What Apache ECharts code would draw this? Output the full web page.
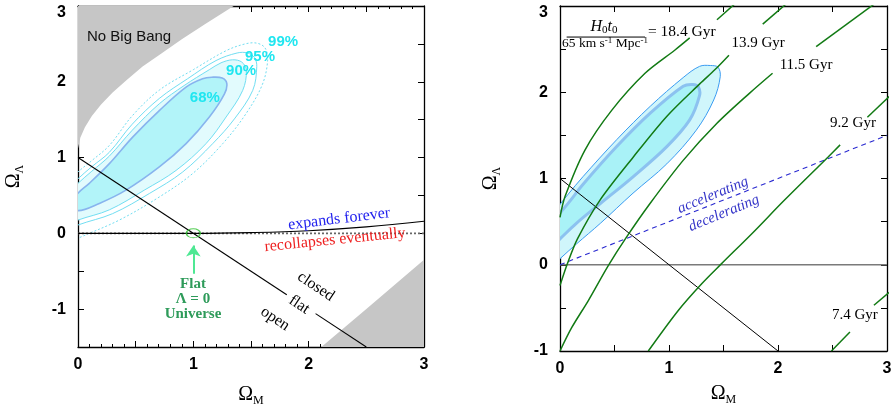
<!DOCTYPE html>
<html>
<head>
<meta charset="utf-8">
<title>Omega_M - Omega_Lambda plane</title>
<script src="https://cdn.jsdelivr.net/npm/echarts@6.0.0/dist/echarts.min.js"></script>
<style>
  html, body { margin: 0; padding: 0; background: #fff; }
  #chart { width: 891px; height: 406px; }
</style>
</head>
<body>
<div id="chart"></div>
<script>
const SERIF = '"Liberation Serif", "Times New Roman", serif';
const SANS = '"Liberation Sans", Arial, sans-serif';

// Tick labels shown on both panels
const omegaMTicks = [0, 1, 2, 3];
const omegaLambdaTicks = [-1, 0, 1, 2, 3];

// ---------------- left panel ----------------
// region without a Big Bang (upper left)
const noBigBang = [[-0.1, 3.2], [-0.1, 1.12], [0, 1.12], [0.02, 1.26], [0.06, 1.40], [0.12, 1.55],
  [0.2, 1.70], [0.3, 1.86], [0.42, 2.02], [0.56, 2.20], [0.72, 2.37], [0.9, 2.56], [1.1, 2.76],
  [1.35, 3.0], [1.55, 3.2]];
// excluded corner (lower right)
const lowerRightZone = [[2.03, -1.6], [2.11, -1.5], [2.5, -1.0], [3, -0.35], [3.1, -0.22], [3.1, -1.6]];

// confidence contours
const conf68 = [[-0.06, 0.40], [0, 0.30], [0.185, 0.395], [0.416, 0.57], [0.705, 0.876], [0.937, 1.184],
  [1.139, 1.535], [1.27, 1.84], [1.29, 1.98], [1.25, 2.05], [1.16, 2.06], [1.08, 2.04], [0.937, 1.93],
  [0.705, 1.62], [0.474, 1.27], [0.272, 0.92], [0.098, 0.66], [0, 0.53]];
const conf90 = [[-0.1, 0.10], [0, 0.175], [0.272, 0.31], [0.575, 0.57], [0.85, 0.83], [1.11, 1.184],
  [1.284, 1.535], [1.428, 1.886], [1.46, 2.15], [1.42, 2.26], [1.34, 2.29], [1.24, 2.25], [1.139, 2.16],
  [0.92, 1.95], [0.705, 1.71], [0.47, 1.36], [0.272, 1.02], [0.12, 0.82], [0, 0.66], [-0.1, 0.5]];
const conf95 = [[-0.1, 0.03], [0, 0.11], [0.30, 0.26], [0.619, 0.526], [0.908, 0.81], [1.168, 1.184],
  [1.356, 1.51], [1.515, 1.886], [1.55, 2.2], [1.53, 2.32], [1.47, 2.38], [1.38, 2.38], [1.197, 2.28],
  [0.95, 2.04], [0.705, 1.78], [0.47, 1.44], [0.272, 1.07], [0.12, 0.88], [0, 0.72], [-0.1, 0.56]];
const conf99 = [[-0.1, -0.15], [0, -0.066], [0.358, 0.175], [0.705, 0.48], [0.995, 0.79], [1.255, 1.184],
  [1.457, 1.58], [1.60, 1.97], [1.645, 2.3], [1.62, 2.45], [1.55, 2.51], [1.45, 2.50], [1.284, 2.41],
  [1.0, 2.16], [0.705, 1.89], [0.47, 1.55], [0.272, 1.16], [0.12, 0.96], [0, 0.81], [-0.1, 0.65]];

// flat universe line, broken where "flat" is written
const flatUpper = [[0, 1], [1.81, -0.81]];
const flatLower = [[2.06, -1.06], [2.5, -1.5]];
// boundary between eternal expansion and recollapse
const expansionBoundary = [[0, 0], [1, 0], [1.5, 0.01], [2, 0.035], [2.5, 0.085], [3, 0.16]];
const zeroLambda = [[0, 0], [3, 0]];
const flatNoLambda = [[1, 0]];
const pointerShaft = [[1, -0.535], [1, -0.16]];

// ---------------- right panel ----------------
const fitOuter = [[-0.1, -0.05], [0, 0.07], [0.15, 0.24], [0.37, 0.48], [0.67, 0.83], [0.98, 1.17],
  [1.25, 1.56], [1.41, 1.91], [1.47, 2.18], [1.45, 2.29], [1.38, 2.31], [1.28, 2.30], [1.13, 2.17],
  [0.83, 1.84], [0.52, 1.45], [0.21, 1.02], [0.07, 0.81], [0, 0.70], [-0.1, 0.52]];
const fitInner = [[-0.1, 0.18], [0, 0.30], [0.15, 0.48], [0.37, 0.71], [0.67, 1.02], [0.98, 1.37],
  [1.19, 1.68], [1.28, 1.96], [1.27, 2.06], [1.22, 2.09], [1.13, 2.07], [0.83, 1.76], [0.52, 1.37],
  [0.21, 0.93], [0.08, 0.72], [0, 0.60], [-0.1, 0.42]];

// curves of constant H0 t0 (each split where its label sits)
const age184 = [[[0, 0.55], [0.046, 0.79], [0.229, 1.33], [0.474, 1.79], [0.78, 2.22], [1.055, 2.49], [1.19, 2.63]],
                [[1.44, 2.84], [1.6, 3.02]]];
const age139 = [[[0, -0.24], [0.07, 0.02], [0.16, 0.30], [0.367, 0.75], [0.673, 1.25], [0.979, 1.72], [1.284, 2.10], [1.42, 2.26], [1.55, 2.43]],
                [[1.86, 2.79], [2.08, 3.03]]];
const age115 = [[[0, -1.0], [0.107, -0.73], [0.26, -0.415], [0.443, -0.01], [0.61, 0.32], [0.826, 0.71], [1.13, 1.21], [1.44, 1.64], [1.74, 1.99], [1.95, 2.22]],
                [[2.35, 2.53], [2.88, 3.02]]];
const age92 = [[[0.81, -1.0], [1.085, -0.53], [1.30, -0.22], [1.48, 0.01], [1.76, 0.36], [2.06, 0.75], [2.46, 1.25], [2.57, 1.39]],
               [[2.82, 1.71], [3.02, 1.95]]];
const age74 = [[[2.49, -1.0], [2.66, -0.78]],
               [[2.88, -0.47], [3.02, -0.32]]];

const flatLineR = [[0, 1], [2, -1]];
const zeroLambdaR = [[0, 0], [3, 0]];
const accelBoundary = [[0, 0], [3, 1.5]];
const fractionBar = [[0.061, 2.64], [0.78, 2.64]];

// ---------------- styling ----------------
const CYAN_TEXT = '#1fe6f0';
const GREEN = '#127a14';

const leftNotes = [
  { text: 'No Big Bang', x: 0.078, y: 2.596, align: 'left', font: `15px ${SANS}`, color: '#111' },
  { text: '68%', x: 1.10, y: 1.79, font: `bold 15px ${SANS}`, color: CYAN_TEXT },
  { text: '90%', x: 1.414, y: 2.15, font: `bold 15px ${SANS}`, color: CYAN_TEXT },
  { text: '95%', x: 1.578, y: 2.33, font: `bold 15px ${SANS}`, color: CYAN_TEXT },
  { text: '99%', x: 1.778, y: 2.53, font: `bold 15px ${SANS}`, color: CYAN_TEXT },
  { text: 'expands forever', x: 2.264, y: 0.188, rot: 0.12, font: `16px ${SERIF}`, color: '#2323ee' },
  { text: 'recollapses eventually', x: 2.229, y: -0.088, rot: 0.10, font: `16px ${SERIF}`, color: '#ee2020' },
  { text: 'closed', x: 2.062, y: -0.703, rot: -0.585, font: `16px ${SERIF}`, color: '#000' },
  { text: 'flat', x: 1.917, y: -0.943, rot: -0.585, font: `16px ${SERIF}`, color: '#000' },
  { text: 'open', x: 1.709, y: -1.128, rot: -0.585, font: `16px ${SERIF}`, color: '#000' },
  { text: 'Flat\nΛ = 0\nUniverse', x: 0.997, y: -0.865, lineHeight: 14.8, font: `bold 15px ${SERIF}`, color: '#2e9b5a' }
];

const rightNotes = [
  { text: '{i|H}{s|0}{i|t}{s|0}', x: 0.404, y: 2.762,
    rich: { i: { fontFamily: SERIF, fontStyle: 'italic', fontSize: 16, lineHeight: 18, fill: '#000' },
            s: { fontFamily: SERIF, fontSize: 11, lineHeight: 10, verticalAlign: 'bottom', fill: '#000' } } },
  { text: '{n|65 km s}{p|-1}{n| Mpc}{p|-1}', x: 0.413, y: 2.56,
    rich: { n: { fontFamily: SERIF, fontSize: 13.5, lineHeight: 16, fill: '#000' },
            p: { fontFamily: SERIF, fontSize: 9, lineHeight: 9, verticalAlign: 'top', fill: '#000' } } },
  { text: '= 18.4 Gyr', x: 0.807, y: 2.70, align: 'left', font: `15.5px ${SERIF}`, color: '#000' },
  { text: '13.9 Gyr', x: 1.817, y: 2.573, font: `15px ${SERIF}`, color: '#000' },
  { text: '11.5 Gyr', x: 2.257, y: 2.317, font: `15px ${SERIF}`, color: '#000' },
  { text: '9.2 Gyr', x: 2.688, y: 1.643, font: `15px ${SERIF}`, color: '#000' },
  { text: '7.4 Gyr', x: 2.706, y: -0.578, font: `15px ${SERIF}`, color: '#000' },
  { text: 'accelerating', x: 1.404, y: 0.806, rot: 0.39, font: `italic 15px ${SERIF}`, color: '#3434c8' },
  { text: 'decelerating', x: 1.505, y: 0.597, rot: 0.39, font: `italic 15px ${SERIF}`, color: '#3434c8' }
];

// ---------------- helpers ----------------
function areaSeries(xi, yi, shapes, z) {
  return {
    type: 'custom', xAxisIndex: xi, yAxisIndex: yi, clip: true, silent: true, z: z,
    data: shapes.map(() => [1, 0]),
    renderItem(params, api) {
      const s = shapes[params.dataIndex];
      return {
        type: 'polygon', z2: params.dataIndex,
        shape: { points: s.pts.map(p => api.coord(p)), smooth: s.smooth || 0 },
        style: { fill: s.fill || 'none', stroke: s.stroke || 'none', lineWidth: s.width || 1, lineDash: s.dash || null }
      };
    }
  };
}

function curve(xi, yi, pts, color, width, type, smooth, z) {
  return {
    type: 'line', xAxisIndex: xi, yAxisIndex: yi, data: pts, symbol: 'none', showSymbol: false,
    smooth: smooth, clip: true, silent: true, z: z || 5,
    lineStyle: { color: color, width: width, type: type || 'solid' }
  };
}

function noteSeries(xi, yi, notes) {
  return {
    type: 'custom', xAxisIndex: xi, yAxisIndex: yi, clip: false, silent: true, z: 20,
    data: notes.map(n => [n.x, n.y]),
    renderItem(params, api) {
      const n = notes[params.dataIndex];
      const p = api.coord([api.value(0), api.value(1)]);
      const style = { text: n.text, align: n.align || 'center', verticalAlign: 'middle' };
      if (n.font) style.font = n.font;
      if (n.color) style.fill = n.color;
      if (n.lineHeight) style.lineHeight = n.lineHeight;
      if (n.rich) style.rich = n.rich;
      return { type: 'text', x: p[0], y: p[1], rotation: n.rot || 0, style: style };
    }
  };
}

const labelStyle = { color: '#000', fontFamily: SANS, fontSize: 16, fontWeight: 'bold' };
const nameRich = {
  o: { fontFamily: SERIF, fontSize: 20, lineHeight: 24, color: '#000' },
  s: { fontFamily: SERIF, fontSize: 12, lineHeight: 12, verticalAlign: 'bottom', color: '#000' }
};

function xAxes(grid, labels, minor, nameGap) {
  const common = {
    gridIndex: grid, type: 'value', min: 0, max: 3, interval: 0.5,
    axisLine: { onZero: false, lineStyle: { color: '#000', width: 1.3 } },
    axisTick: { inside: true, length: 6, lineStyle: { color: '#000', width: 1 } },
    minorTick: { show: minor, splitNumber: 5, length: 3, lineStyle: { color: '#000', width: 1 } },
    splitLine: { show: false }, minorSplitLine: { show: false }
  };
  return [
    Object.assign({}, common, {
      position: 'bottom',
      axisLabel: Object.assign({ margin: 10, formatter: v => labels.includes(v) ? String(v) : '' }, labelStyle),
      name: '{o|Ω}{s|M}', nameLocation: 'middle', nameGap: nameGap,
      nameTextStyle: { rich: nameRich }
    }),
    Object.assign({}, common, { position: 'top', axisLabel: { show: false } })
  ];
}

function yAxes(grid, min, labels, nameGap) {
  const common = {
    gridIndex: grid, type: 'value', min: min, max: 3, interval: 0.5,
    axisLine: { onZero: false, lineStyle: { color: '#000', width: 1.3 } },
    axisTick: { inside: true, length: 6, lineStyle: { color: '#000', width: 1 } },
    splitLine: { show: false }
  };
  return [
    Object.assign({}, common, {
      position: 'left',
      axisLabel: Object.assign({
        margin: 12,
        formatter: v => !labels.includes(v) ? '' : (v === 3 ? '{top|3}' : String(v)),
        rich: { top: Object.assign({ padding: [14, 0, 0, 0] }, labelStyle) }
      }, labelStyle),
      name: '{o|Ω}{s|Λ}', nameLocation: 'middle', nameRotate: 90, nameGap: nameGap,
      nameTextStyle: { rich: nameRich }
    }),
    Object.assign({}, common, { position: 'right', axisLabel: { show: false } })
  ];
}

// ---------------- chart ----------------
const chart = echarts.init(document.getElementById('chart'), null, { renderer: 'canvas' });

const series = [
  // left panel
  areaSeries(0, 0, [
    { pts: noBigBang, fill: '#c6c6c6' },
    { pts: lowerRightZone, fill: '#c6c6c6' }
  ], 1),
  areaSeries(0, 0, [
    { pts: conf99, stroke: '#72def2', width: 1, dash: [2, 2], smooth: 0.35 },
    { pts: conf95, stroke: '#72def2', width: 1, smooth: 0.35 },
    { pts: conf90, fill: '#e2fbfd', stroke: '#72def2', width: 1, smooth: 0.35 },
    { pts: conf68, fill: '#b2f4f9', stroke: '#88b4ee', width: 1.6, smooth: 0.35 }
  ], 2),
  curve(0, 0, zeroLambda, '#666', 1.6, [2, 2], false, 4),
  curve(0, 0, expansionBoundary, '#000', 1.1, 'solid', 0.4, 5),
  curve(0, 0, flatUpper, '#000', 1.1, 'solid', false, 6),
  curve(0, 0, flatLower, '#000', 1.1, 'solid', false, 6),
  {
    type: 'scatter', xAxisIndex: 0, yAxisIndex: 0, data: flatNoLambda, silent: true, z: 8,
    symbol: 'circle', symbolSize: [14, 9],
    itemStyle: { color: 'rgba(0,0,0,0)', borderColor: '#2cc22c', borderWidth: 1.2 }
  },
  {
    type: 'lines', coordinateSystem: 'cartesian2d', xAxisIndex: 0, yAxisIndex: 0, silent: true, z: 8,
    data: [{ coords: pointerShaft }], symbol: ['none', 'arrow'], symbolSize: [8, 11],
    lineStyle: { color: '#4fe894', width: 2, opacity: 1 }
  },
  noteSeries(0, 0, leftNotes),

  // right panel
  areaSeries(2, 2, [
    { pts: fitOuter, fill: '#d0f6fb', stroke: '#3b9cf2', width: 1, smooth: 0.35 },
    { pts: fitInner, fill: '#a9f2f7', stroke: '#8cc2f0', width: 3, smooth: 0.35 }
  ], 2),
  curve(2, 2, zeroLambdaR, '#7a7a7a', 1.6, 'solid', false, 4),
  curve(2, 2, accelBoundary, '#2a2ad0', 1.1, [5, 4], false, 5),
  curve(2, 2, flatLineR, '#000', 1, 'solid', false, 6),
  curve(2, 2, fractionBar, '#000', 1, 'solid', false, 6)
];

[age184, age139, age115, age92, age74].forEach(segs => {
  segs.forEach(seg => series.push(curve(2, 2, seg, GREEN, 1.5, 'solid', 0.3, 7)));
});
series.push(noteSeries(2, 2, rightNotes));

chart.setOption({
  animation: false,
  backgroundColor: '#fff',
  grid: [
    { left: 78, top: 6, width: 346, height: 341, outerBoundsMode: 'none', containLabel: false },
    { left: 560, top: 6, width: 327, height: 345, outerBoundsMode: 'none', containLabel: false }
  ],
  xAxis: [].concat(xAxes(0, omegaMTicks, true, 36), xAxes(1, omegaMTicks, false, 31)),
  yAxis: [].concat(yAxes(0, -1.5, omegaLambdaTicks, 52), yAxes(1, -1, omegaLambdaTicks, 57)),
  series: series
});
</script>
</body>
</html>
